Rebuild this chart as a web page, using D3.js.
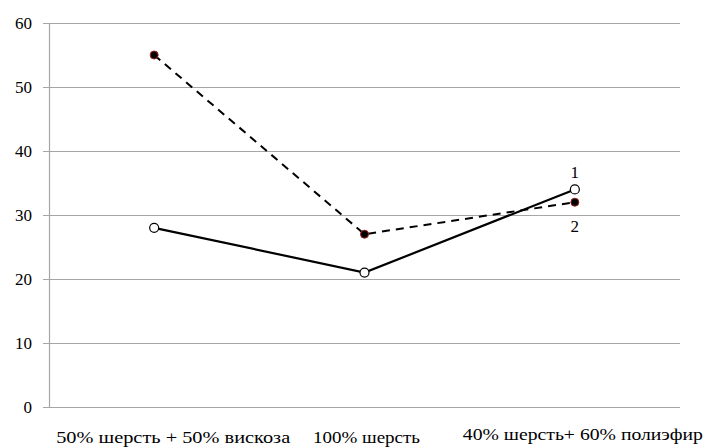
<!DOCTYPE html>
<html>
<head>
<meta charset="utf-8">
<script src="https://cdn.jsdelivr.net/npm/d3@7"></script>
<style>
  body { margin: 0; background: #fff; }
</style>
</head>
<body>
<div id="chart"></div>
<script>
// data
var categories = ["50% шерсть + 50% вискоза", "100% шерсть", "40% шерсть+ 60% полиэфир"];
var series1 = [28, 21, 34]; // solid line, open markers
var series2 = [55, 27, 32]; // dashed line, filled markers
var yTicks = [0, 10, 20, 30, 40, 50, 60];

// label layout (no serif font here, so stretch to the original widths)
var labelShift = [19, 2, 8];
var labelBase = [443, 443, 440];
var labelWidth = [234, 107, 240];

var width = 707, height = 448;
var margin = { top: 23, right: 27, bottom: 41, left: 49 };
var serif = "'Liberation Serif', 'Times New Roman', 'DejaVu Serif', serif";

var svg = d3.select("#chart")
            .append("svg")
            .attr("width", width)
            .attr("height", height)
            .attr("font-family", serif);

var x = d3.scaleBand()
          .domain(categories)
          .range([margin.left, width - margin.right]);

var y = d3.scaleLinear()
          .domain([0, 60])
          .range([height - margin.bottom, margin.top]);

function cx(d, i) { return x(categories[i]) + x.bandwidth() / 2; }

// horizontal gridlines + tick marks
svg.append("g")
   .selectAll("line")
   .data(yTicks)
   .enter()
   .append("line")
   .attr("x1", margin.left - 6)
   .attr("x2", width - margin.right)
   .attr("y1", function(d) { return Math.round(y(d)) + 0.5; })
   .attr("y2", function(d) { return Math.round(y(d)) + 0.5; })
   .attr("stroke", "#a6a6a6")
   .attr("stroke-width", 1.2);

// vertical axis
svg.append("line")
   .attr("x1", margin.left + 0.5).attr("x2", margin.left + 0.5)
   .attr("y1", y(60)).attr("y2", y(0) + 1)
   .attr("stroke", "#a6a6a6")
   .attr("stroke-width", 1.2);

// y tick labels
svg.append("g")
   .selectAll("text")
   .data(yTicks)
   .enter()
   .append("text")
   .attr("x", 32)
   .attr("y", function(d) { return y(d) + 6; })
   .attr("text-anchor", "end")
   .attr("font-size", "17px")
   .text(function(d) { return d; });

// category labels
svg.append("g")
   .selectAll("text")
   .data(categories)
   .enter()
   .append("text")
   .attr("x", function(d, i) { return x(d) + x.bandwidth() / 2 + labelShift[i]; })
   .attr("y", function(d, i) { return labelBase[i]; })
   .attr("text-anchor", "middle")
   .attr("font-size", "16px")
   .attr("textLength", function(d, i) { return labelWidth[i]; })
   .attr("lengthAdjust", "spacingAndGlyphs")
   .text(function(d) { return d; });

var line = d3.line()
             .x(cx)
             .y(function(d) { return y(d); });

svg.append("path")
   .datum(series2)
   .attr("d", line)
   .attr("fill", "none")
   .attr("stroke", "#000")
   .attr("stroke-width", 2)
   .attr("stroke-dasharray", "8,6");

svg.append("path")
   .datum(series1)
   .attr("d", line)
   .attr("fill", "none")
   .attr("stroke", "#000")
   .attr("stroke-width", 2.2);

svg.append("g")
   .selectAll("circle")
   .data(series2)
   .enter()
   .append("circle")
   .attr("cx", cx)
   .attr("cy", function(d) { return y(d); })
   .attr("r", 4)
   .attr("fill", "#000")
   .attr("stroke", "#a02020")
   .attr("stroke-width", 1);

svg.append("g")
   .selectAll("circle")
   .data(series1)
   .enter()
   .append("circle")
   .attr("cx", cx)
   .attr("cy", function(d) { return y(d); })
   .attr("r", 4.5)
   .attr("fill", "#fff")
   .attr("stroke", "#000")
   .attr("stroke-width", 1.2);

// series numbers next to last points
var last = categories.length - 1;
svg.append("text")
   .attr("x", cx(null, last))
   .attr("y", y(series1[last]) - 11)
   .attr("text-anchor", "middle")
   .attr("font-size", "17px")
   .text("1");

svg.append("text")
   .attr("x", cx(null, last))
   .attr("y", y(series2[last]) + 30)
   .attr("text-anchor", "middle")
   .attr("font-size", "17px")
   .text("2");
</script>
</body>
</html>
